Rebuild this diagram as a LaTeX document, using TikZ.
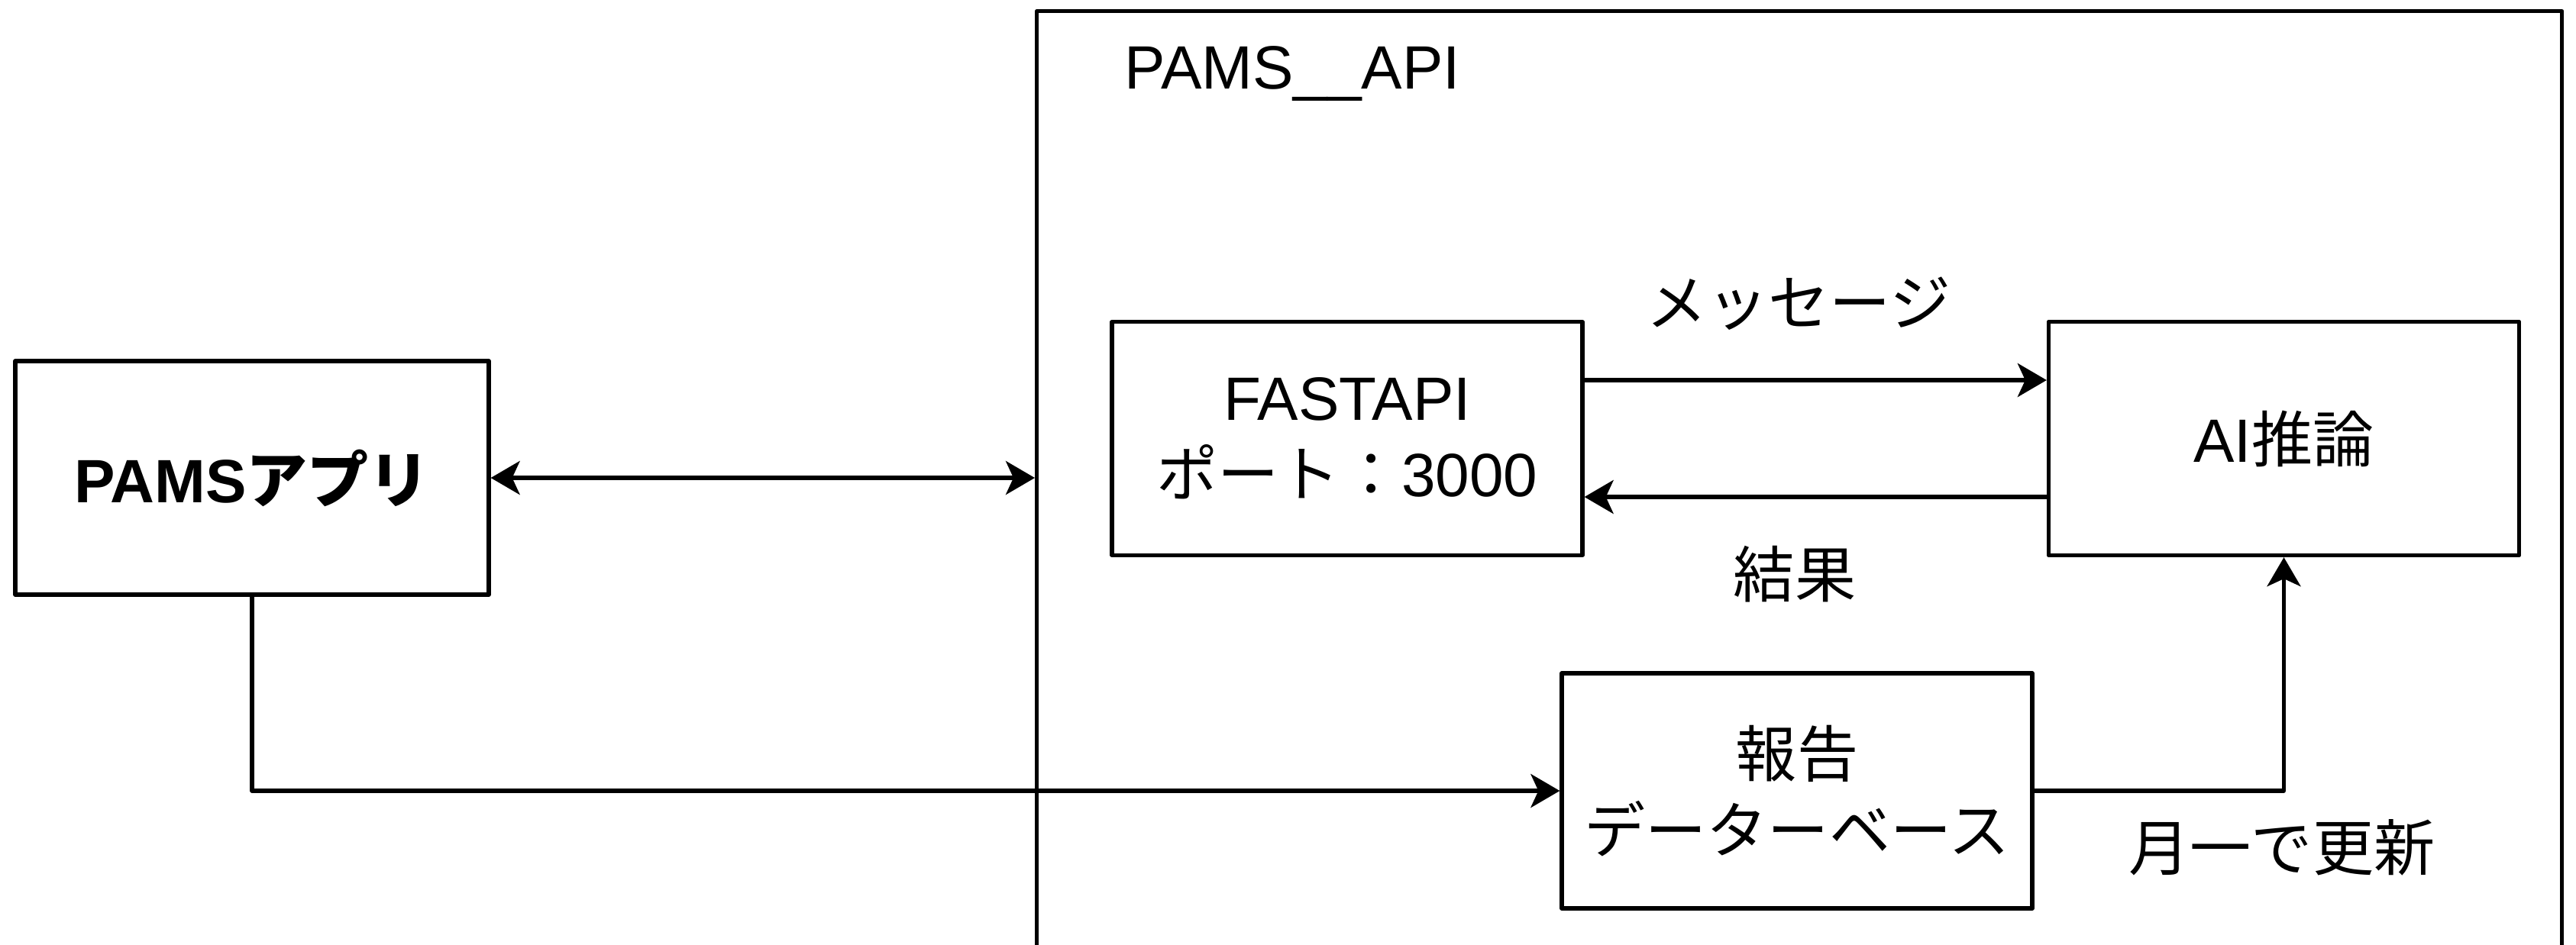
\documentclass[tikz,border=0pt]{standalone}
\usepackage{fontspec}
\setmainfont{Noto Sans CJK JP}
\newfontfamily\latin{Liberation Sans}
\usetikzlibrary{arrows.meta}
\begin{document}
\begin{tikzpicture}[line join=round,line width=1.5pt,font=\fontsize{22.8}{28.5}\selectfont,
		box/.style={draw,minimum width=6.16cm,minimum height=3.06cm,align=center,inner sep=0pt},
		>={Stealth[length=0.38cm,width=0.44cm,inset=0.1cm]}]
	\useasboundingbox (0,0) rectangle (33.73,-12.37);
	\clip (0,0) rectangle (33.73,-12.37);
	% container, its bottom runs off the page
	\node[draw,anchor=north west,minimum width=19.97cm,minimum height=14cm,inner sep=0pt] (api) at (13.55,-0.12) {};
	\node[anchor=base west,inner sep=0pt] (apiname) at (14.70,-1.16) {\latin PAMS\_\_API};
	% boxes
	\node[box,minimum width=6.20cm,font=\fontsize{22.8}{28.5}\selectfont\bfseries] (app) at (3.30,-6.26) {{\latin PAMS}アプリ};
	\node[box] (fast) at (17.64,-5.745) {{\latin FASTAPI}\\ポート：{\latin 3000}};
	\node[box] (ai) at (29.905,-5.745) {{\latin AI}推論};
	\node[box,minimum height=3.08cm] (db) at (23.53,-10.36) {報告\\データーベース};
	% labels
	\node (msg) at (23.55,-3.98) {メッセージ};
	\node (res) at (23.50,-7.52) {結果};
	\node (upd) at (29.88,-11.10) {月一で更新};
	% connectors
	\draw[<->] (app.east) -- (app.east -| api.west);
	\draw[->] ([yshift=0.765cm]fast.east) -- ([yshift=0.765cm]ai.west);
	\draw[->] ([yshift=-0.765cm]ai.west) -- ([yshift=-0.765cm]fast.east);
	\draw[->] (app.south) |- (db.west);
	\draw[->] (db.east) -| (ai.south);
\end{tikzpicture}
\end{document}
